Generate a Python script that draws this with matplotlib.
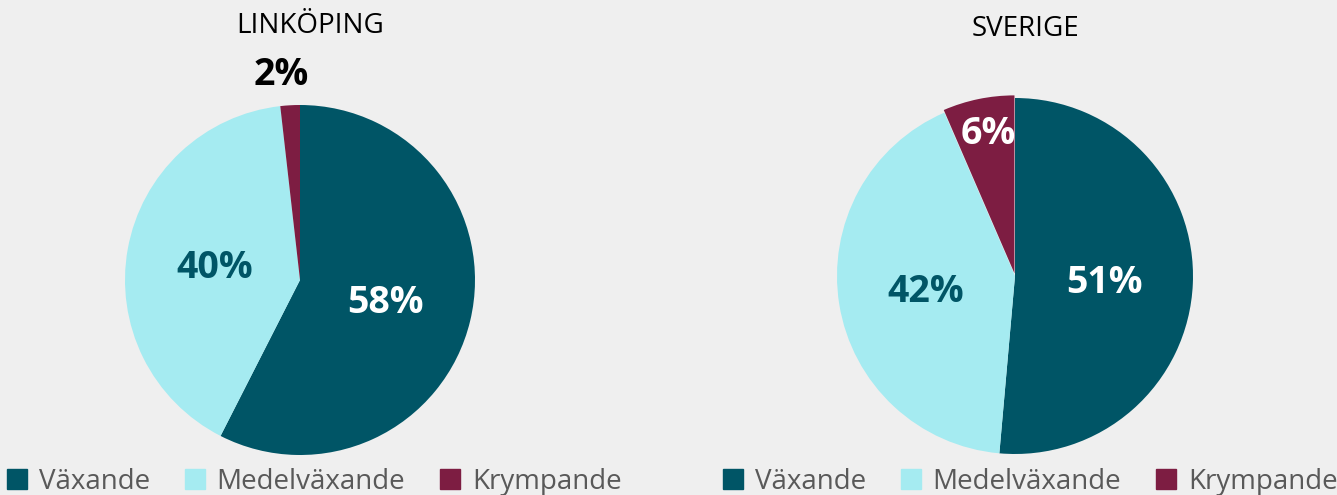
import matplotlib.pyplot as plt
from matplotlib.lines import Line2D

plt.rcParams['font.family'] = ['Open Sans', 'DejaVu Sans']

categories = ["Växande", "Medelväxande", "Krympande"]
colors = ["#005566", "#a5ebf1", "#7d1d42"]

linkoping_values = [57.5, 40.7, 1.8]
linkoping_labels = ["58%", "40%", "2%"]
sverige_values = [51.4, 42.1, 6.5]
sverige_labels = ["51%", "42%", "6%"]

W, H = 1337, 495
bg = "#efefef"
fig = plt.figure(figsize=(W / 100, H / 100), dpi=100, facecolor=bg)


def px_axes(cx, cy, r):
    # axes square around a pie centre given in pixels (y from top)
    return fig.add_axes([(cx - r) / W, (H - cy - r) / H, 2 * r / W, 2 * r / H])


def draw_pie(ax, values, labels, label_pos, label_colors, explode):
    wedges, _ = ax.pie(values, colors=colors, startangle=90, counterclock=False,
                       explode=explode, radius=1.0)
    ax.set_xlim(-1.0, 1.0)
    ax.set_ylim(-1.0, 1.0)
    ax.set_aspect('auto')
    ax.axis('off')
    for lab, (x, y), c in zip(labels, label_pos, label_colors):
        ax.text(x, y, lab, ha='center', va='center', fontsize=27,
                fontweight='bold', color=c, clip_on=False)
    return wedges


ax1 = px_axes(300, 280, 175)
draw_pie(ax1, linkoping_values, linkoping_labels,
         [(0.49, -0.13), (-0.49, 0.07), (-0.11, 1.17)],
         ["white", "#005566", "black"], [0, 0, 0])
ax2 = px_axes(1015, 276, 178)
draw_pie(ax2, sverige_values, sverige_labels,
         [(0.5, -0.04), (-0.5, -0.09), (-0.15, 0.8)],
         ["white", "#005566", "white"], [0, 0, 0.015])

fig.text(310 / W, 1 - 26 / H, "LINKÖPING", ha='center', va='center', fontsize=20, color='black')
fig.text(1025 / W, 1 - 29 / H, "SVERIGE", ha='center', va='center', fontsize=20, color='black')

handles = [Line2D([], [], marker='s', linestyle='', markersize=14, color=c) for c in colors]
for x0 in (4 / W, 720 / W):
    leg = fig.legend(handles, categories, loc='center left', bbox_to_anchor=(x0, 1 - 482 / H),
                     ncol=3, frameon=False, fontsize=20, labelcolor='#595959',
                     handlelength=0.55, handletextpad=0.5, columnspacing=1.35,
                     borderaxespad=0, borderpad=0.2)

fig.savefig("out.png", dpi=100, facecolor=bg)
